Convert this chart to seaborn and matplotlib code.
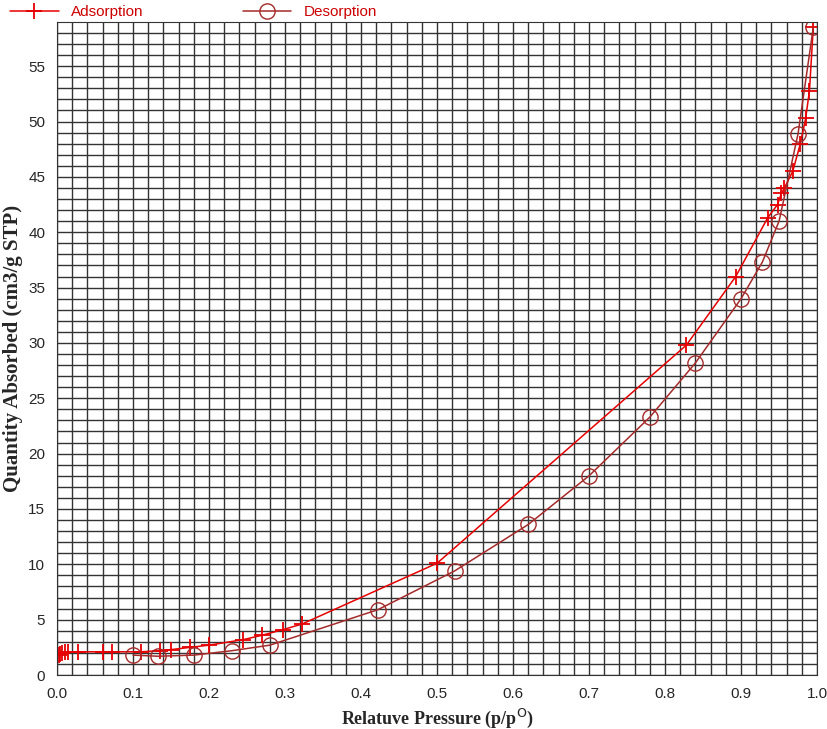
import matplotlib
matplotlib.use("Agg")
import matplotlib.pyplot as plt
import seaborn as sns
import numpy as np
import pandas as pd

ads_x = [0.002,0.004,0.006,0.010,0.015,0.027,0.060,0.072,0.110,0.135,0.150,0.175,0.200,0.245,0.270,0.297,0.322,0.500,0.828,0.893,0.935,0.948,0.953,0.957,0.968,0.978,0.985,0.990,0.995]
ads_y = [1.8,1.9,2.0,2.05,2.1,2.1,2.1,2.1,2.1,2.2,2.3,2.5,2.7,3.2,3.6,4.1,4.6,10.1,29.8,36.0,41.3,42.5,43.5,44.0,45.5,48.0,50.3,52.8,58.5]
des_x = [0.995,0.975,0.950,0.928,0.900,0.840,0.780,0.700,0.620,0.523,0.422,0.280,0.230,0.180,0.133,0.100]
des_y = [58.5,48.9,41.0,37.3,34.0,28.2,23.3,18.0,13.6,9.4,5.9,2.7,2.2,1.8,1.7,1.8]

sns.set_style("white")
plt.rcParams['font.family'] = ['Liberation Sans', 'DejaVu Sans']
fig = plt.figure(figsize=(8.27, 7.29), dpi=100)
ax = fig.add_axes([0.069, 0.074, 0.919, 0.896])

ads = pd.DataFrame({"x": ads_x, "y": ads_y})
des = pd.DataFrame({"x": des_x, "y": des_y})
sns.lineplot(data=ads, x="x", y="y", sort=False, ax=ax, color="#e60000", lw=1.1,
             marker="+", markersize=11, markeredgewidth=1.3, markeredgecolor="#e60000",
             label="Adsorption")
sns.lineplot(data=des, x="x", y="y", sort=False, ax=ax, color="#a52a2a", lw=1.1,
             marker="o", markersize=11, markerfacecolor="none", markeredgecolor="#a52a2a",
             markeredgewidth=1.0, label="Desorption")

ax.set_xlim(0, 1.0)
ax.set_ylim(0, 59)
ax.set_xticks(np.arange(0, 1.01, 0.1))
ax.set_xticklabels([f"{v:.1f}" for v in np.arange(0, 1.01, 0.1)])
ax.set_yticks(np.arange(0, 56, 5))
ax.set_xticks(np.arange(0, 1.001, 0.02), minor=True)
ax.set_yticks(np.arange(0, 59, 1), minor=True)
ax.grid(True, which="both", color="#333333", lw=1.0)
ax.set_axisbelow(True)
ax.tick_params(axis="both", which="major", length=5, direction="out", labelsize=11, color="black")
ax.tick_params(which="minor", length=0)
for s in ax.spines.values():
    s.set_color("#333333")
ax.set_xlabel("Relatuve Pressure (p/p$^\\mathrm{O}$)", fontsize=13, fontweight="bold",
              family="Liberation Serif", labelpad=4)
ax.set_ylabel("Quantity Absorbed (cm3/g STP)", fontsize=15, fontweight="bold",
              family="Liberation Serif", labelpad=4)
ax.get_legend().remove()
h, l = ax.get_legend_handles_labels()
leg = fig.legend(h, l, loc="upper left", bbox_to_anchor=(-0.005, 1.012), ncol=2, frameon=False,
                 fontsize=11, columnspacing=6.5, handlelength=3.2)
for t in leg.get_texts():
    t.set_color("#cc0000")
fig.savefig("out.png", dpi=100)
